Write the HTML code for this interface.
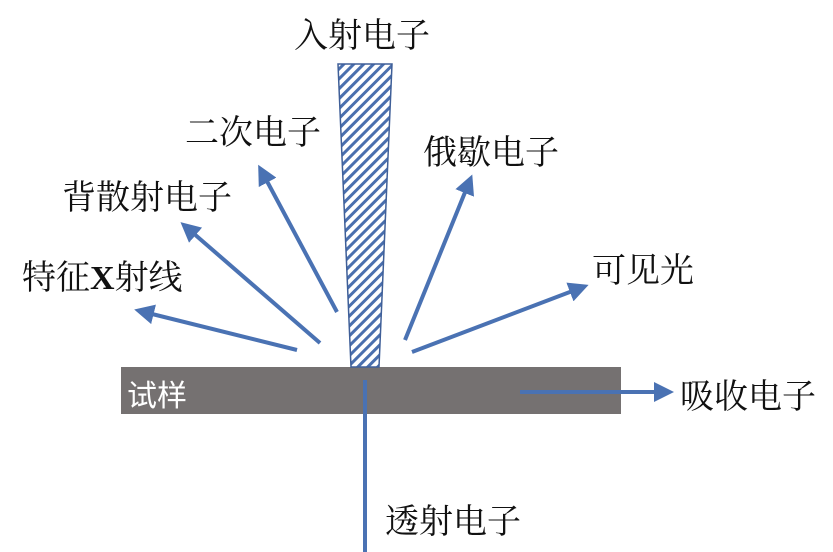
<!DOCTYPE html>
<html><head><meta charset="utf-8"><style>
html,body{margin:0;padding:0;background:#fff;}
svg{display:block}
text{font-family:"Liberation Serif","Noto Serif CJK SC","Noto Sans CJK SC",serif;font-size:34px;fill:#111;}
</style></head><body>
<svg width="833" height="552" viewBox="0 0 833 552" xmlns="http://www.w3.org/2000/svg">
<defs>
<pattern id="h" width="7" height="7" patternUnits="userSpaceOnUse" patternTransform="rotate(45)">
<rect width="7" height="7" fill="#fff"/><rect width="3" height="7" fill="#4a6fae"/>
</pattern>
<marker id="a" markerWidth="5" markerHeight="5" refX="3.5" refY="2.5" orient="auto" markerUnits="strokeWidth">
<path d="M0,0 L5,2.5 L0,5 z" fill="#4a72b3"/></marker>
</defs>
<rect x="121" y="367" width="500" height="47" fill="#757171"/>
<text x="127" y="406" style="fill:#fff;font-family:'Liberation Sans','Noto Sans CJK SC',sans-serif;font-size:30px">试样</text>
<polygon points="338,64 392,64 379,367 351,367" fill="url(#h)" stroke="#3f5f98" stroke-width="1.5"/>
<g stroke="#4a72b3" stroke-width="4" fill="none" marker-end="url(#a)">
<line x1="297" y1="350" x2="140" y2="311"/>
<line x1="320" y1="343" x2="185" y2="226"/>
<line x1="337" y1="312" x2="261" y2="170"/>
<line x1="405" y1="340" x2="470" y2="180"/>
<line x1="412" y1="352" x2="583" y2="287"/>
<line x1="520" y1="392" x2="668" y2="392"/>
</g>
<line x1="365" y1="380" x2="365" y2="552" stroke="#4a72b3" stroke-width="4"/>
<text x="294" y="47">入射电子</text>
<text x="185" y="144">二次电子</text>
<text x="62" y="209">背散射电子</text>
<text x="22" y="289">特征<tspan font-weight="bold">X</tspan>射线</text>
<text x="423" y="164">俄歇电子</text>
<text x="592" y="282">可见光</text>
<text x="680" y="408">吸收电子</text>
<text x="385" y="533">透射电子</text>
</svg>
</body></html>
